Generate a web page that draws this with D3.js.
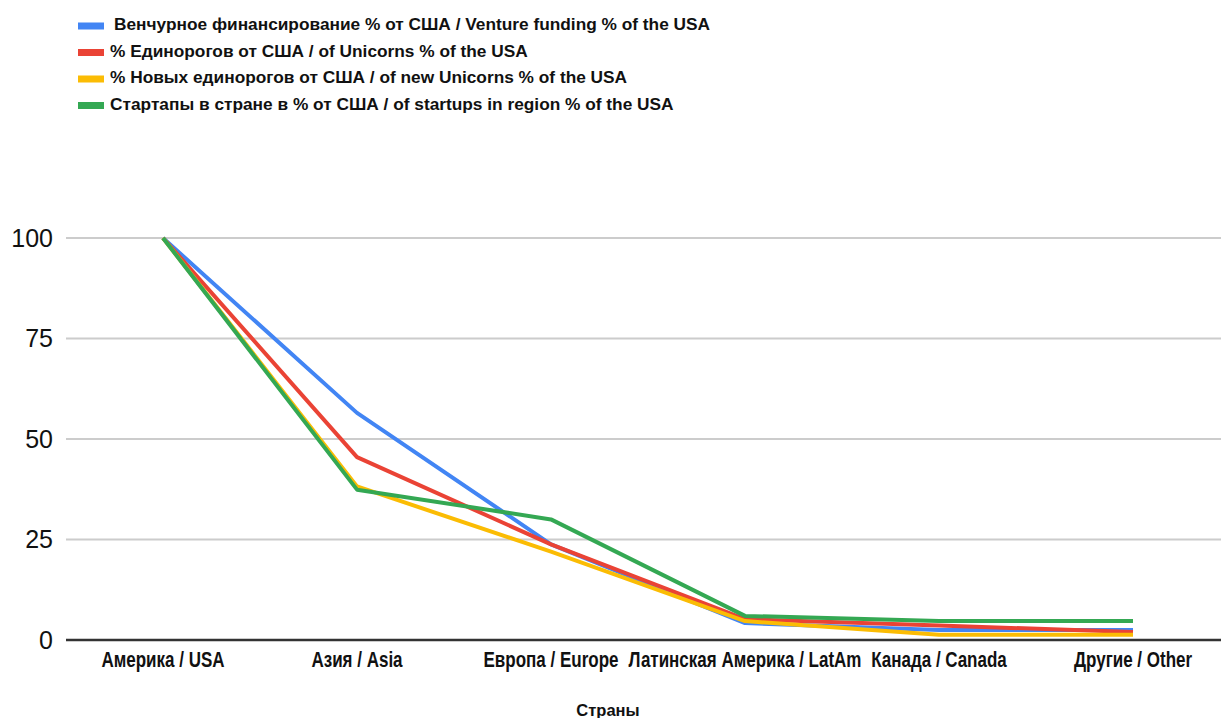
<!DOCTYPE html>
<html>
<head>
<meta charset="utf-8">
<script src="https://cdn.jsdelivr.net/npm/d3@7"></script>
<style>
  body { margin: 0; background: #fff; }
  svg { display: block; font-family: "Liberation Sans", Arial, sans-serif; }
</style>
</head>
<body>
<svg id="chart" width="1221" height="718"></svg>
<script>
// categories along the x axis
const categories = [
  'Америка / USA',
  'Азия / Asia',
  'Европа / Europe',
  'Латинская Америка / LatAm',
  'Канада / Canada',
  'Другие / Other'
];

const seriesNames = [
  'Венчурное финансирование % от США / Venture funding % of the USA',
  '% Единорогов от США / of Unicorns % of the USA',
  '% Новых единорогов от США / of new Unicorns % of the USA',
  'Стартапы в стране в % от США / of startups in region % of the USA'
];

const ventureFunding = [100, 56.5, 23.8, 4.2, 2.5, 2.5];
const unicorns = [100, 45.5, 23.8, 5.2, 3.6, 2.0];
const newUnicorns = [100, 38.2, 22.0, 4.7, 1.3, 1.3];
const startups = [100, 37.4, 30.0, 6.0, 4.7, 4.7];

const yTicks = [0, 25, 50, 75, 100];
const xTitle = 'Страны';

const colors = ['#4285f4', '#ea4335', '#fbbc04', '#34a853'];

const series = [ventureFunding, unicorns, newUnicorns, startups].map(function (vals, i) {
  return { name: seriesNames[i], color: colors[i], values: vals };
});

const svg = d3.select('#chart');
const plotLeft = 66, plotRight = 1230, plotTop = 238, plotBottom = 640;

const x = d3.scaleBand().domain(categories).range([plotLeft, plotRight]);
const y = d3.scaleLinear().domain([0, 100]).range([plotBottom, plotTop]);

// gridlines
svg.append('g')
  .selectAll('line')
  .data(yTicks.filter(function (d) { return d > 0; }))
  .enter()
  .append('line')
  .attr('x1', plotLeft)
  .attr('x2', 1221)
  .attr('y1', function (d) { return y(d); })
  .attr('y2', function (d) { return y(d); })
  .attr('stroke', '#cccccc')
  .attr('stroke-width', 2);

// y axis labels
const yAxis = d3.axisLeft(y).tickValues(yTicks).tickSize(0).tickPadding(13);
svg.append('g')
  .attr('transform', 'translate(' + plotLeft + ',0)')
  .call(yAxis)
  .call(function (g) {
    g.select('.domain').remove();
    g.selectAll('text')
      .attr('font-family', '"Liberation Sans", Arial, sans-serif')
      .attr('font-size', 25)
      .attr('fill', '#111');
  });

// lines
const line = d3.line()
  .x(function (d, i) { return x(categories[i]) + x.bandwidth() / 2; })
  .y(function (d) { return y(d); });

svg.append('g')
  .selectAll('path')
  .data(series)
  .enter()
  .append('path')
  .attr('d', function (d) { return line(d.values); })
  .attr('fill', 'none')
  .attr('stroke', function (d) { return d.color; })
  .attr('stroke-width', 4)
  .attr('stroke-linejoin', 'round');

// baseline
svg.append('line')
  .attr('x1', plotLeft)
  .attr('x2', 1221)
  .attr('y1', y(0))
  .attr('y2', y(0))
  .attr('stroke', '#333')
  .attr('stroke-width', 2.5);

// x axis labels (slightly stretched vertically, as in the source image)
const xAxis = d3.axisBottom(x).tickSize(0).tickPadding(0);
svg.append('g')
  .attr('transform', 'translate(0,' + plotBottom + ')')
  .call(xAxis)
  .call(function (g) {
    g.select('.domain').remove();
    g.selectAll('text')
      .attr('y', 0)
      .attr('dy', 0)
      .attr('transform', 'translate(0,27) scale(1,1.3)')
      .attr('font-family', '"Liberation Sans", Arial, sans-serif')
      .attr('font-size', 17)
      .attr('font-weight', 'bold')
      .attr('fill', '#111');
  });

svg.append('text')
  .attr('x', 608)
  .attr('y', 716)
  .attr('text-anchor', 'middle')
  .attr('font-size', 16.5)
  .attr('font-weight', 'bold')
  .attr('fill', '#111')
  .text(xTitle);

// legend
const legend = svg.append('g')
  .selectAll('g')
  .data(series)
  .enter()
  .append('g')
  .attr('transform', function (d, i) { return 'translate(78,' + (24 + i * 26.5) + ')'; });

legend.append('rect')
  .attr('x', 0)
  .attr('y', -1.5)
  .attr('width', 26)
  .attr('height', 7)
  .attr('fill', function (d) { return d.color; });

legend.append('text')
  .attr('x', function (d, i) { return i === 0 ? 36 : 32; })
  .attr('y', 6)
  .attr('font-size', 17.3)
  .attr('font-weight', 'bold')
  .attr('fill', '#111')
  .text(function (d) { return d.name; });
</script>
</body>
</html>
